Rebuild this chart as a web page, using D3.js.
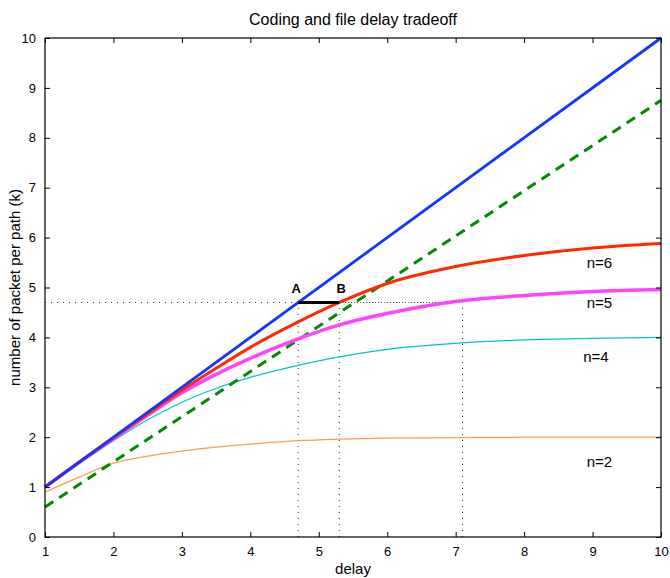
<!DOCTYPE html>
<html>
<head>
<meta charset="utf-8">
<script src="https://cdn.jsdelivr.net/npm/d3@7"></script>
<style>
  body { margin: 0; background: #fff; }
  text { font-family: "Liberation Sans", Arial, sans-serif; fill: #000; }
</style>
</head>
<body>
<div id="vis"></div>
<script>
// data
var xTicks = [1, 2, 3, 4, 5, 6, 7, 8, 9, 10];
var yTicks = [0, 1, 2, 3, 4, 5, 6, 7, 8, 9, 10];

var blueX = [1, 10];
var blueY = [1, 10];

var greenX = [1, 10];
var greenY = [0.6, 8.75];

var curveX = [1, 1.5, 2, 2.5, 3, 3.5, 4, 4.7, 5.3, 6, 7, 8, 9, 10];
var n6 = [1.0, 1.5, 1.99, 2.47, 2.94, 3.38, 3.8, 4.31, 4.7, 5.08, 5.42, 5.64, 5.79, 5.88];
var n5 = [1.0, 1.5, 1.97, 2.44, 2.89, 3.26, 3.58, 3.97, 4.25, 4.48, 4.72, 4.84, 4.92, 4.96];
var n4 = [0.99, 1.47, 1.93, 2.35, 2.7, 2.98, 3.2, 3.44, 3.61, 3.76, 3.88, 3.95, 3.98, 4.0];
var n2 = [0.9, 1.2, 1.48, 1.62, 1.72, 1.8, 1.86, 1.93, 1.96, 1.98, 1.99, 2.0, 2.0, 2.0];

var kLevel = 4.7;
var ptA = 4.7, ptB = 5.3, ptC = 7.1;

var labels = [
  {t: 'n=6', x: 9.1, y: 5.39},
  {t: 'n=5', x: 9.1, y: 4.59},
  {t: 'n=4', x: 9.05, y: 3.51},
  {t: 'n=2', x: 9.1, y: 1.40}
];

var svgW = 670, svgH = 578;
var mLeft = 45, mRight = 661, mTop = 38, mBottom = 537;

var svg = d3.select('#vis').append('svg').attr('width', svgW).attr('height', svgH);
var g = svg.append('g');

var x = d3.scaleLinear().domain([1, 10]).range([mLeft, mRight]);
var y = d3.scaleLinear().domain([0, 10]).range([mBottom, mTop]);

function pts(xs, ys) { return xs.map(function (v, i) { return [v, ys[i]]; }); }
var line = d3.line().x(function (d) { return x(d[0]); }).y(function (d) { return y(d[1]); });
var curve = d3.line().curve(d3.curveMonotoneX).x(function (d) { return x(d[0]); }).y(function (d) { return y(d[1]); });

// dotted guides
function dotted(x1, y1, x2, y2, off) {
  g.append('line')
    .attr('x1', x(x1)).attr('y1', y(y1)).attr('x2', x(x2)).attr('y2', y(y2))
    .attr('stroke', '#333').attr('stroke-width', 1)
    .attr('stroke-dasharray', '1,5').attr('stroke-dashoffset', off || 0);
}
dotted(1, kLevel, ptC, kLevel, 0);
dotted(ptB, kLevel, ptC, kLevel, 3);
dotted(ptA, 0, ptA, kLevel);
dotted(ptB, 0, ptB, kLevel);
dotted(ptC, 0, ptC, kLevel);

// curves
g.append('path').attr('d', curve(pts(curveX, n2))).attr('fill', 'none').attr('stroke', '#ff9955').attr('stroke-width', 1.2);
g.append('path').attr('d', curve(pts(curveX, n4))).attr('fill', 'none').attr('stroke', '#00c4cc').attr('stroke-width', 1.2);
g.append('path').attr('d', line(pts(greenX, greenY))).attr('fill', 'none').attr('stroke', '#008a00').attr('stroke-width', 3)
  .attr('stroke-dasharray', '10,7');
g.append('path').attr('d', curve(pts(curveX, n5))).attr('fill', 'none').attr('stroke', '#ff44ff').attr('stroke-width', 3.5);
g.append('path').attr('d', curve(pts(curveX, n6))).attr('fill', 'none').attr('stroke', '#ff2a00').attr('stroke-width', 3);
g.append('path').attr('d', line(pts(blueX, blueY))).attr('fill', 'none').attr('stroke', '#1435ff').attr('stroke-width', 2.8);

// A-B segment
g.append('line').attr('x1', x(ptA)).attr('y1', y(kLevel)).attr('x2', x(ptB)).attr('y2', y(kLevel))
  .attr('stroke', '#000').attr('stroke-width', 3);
g.append('text').text('A').attr('x', x(ptA) - 2).attr('y', y(kLevel) - 9)
  .attr('text-anchor', 'middle').style('font-size', '13px').style('font-weight', 'bold');
g.append('text').text('B').attr('x', x(ptB) + 2).attr('y', y(kLevel) - 9)
  .attr('text-anchor', 'middle').style('font-size', '13px').style('font-weight', 'bold');

// n= labels
g.selectAll('.nlab').data(labels).enter().append('text').attr('class', 'nlab')
  .text(function (d) { return d.t; })
  .attr('x', function (d) { return x(d.x); }).attr('y', function (d) { return y(d.y); })
  .attr('text-anchor', 'middle').style('font-size', '15px');

// box with inward ticks on all sides
g.append('rect').attr('x', mLeft).attr('y', mTop).attr('width', mRight - mLeft).attr('height', mBottom - mTop)
  .attr('fill', 'none').attr('stroke', '#000').attr('stroke-width', 1.2);

var axB = g.append('g').attr('transform', 'translate(0,' + mBottom + ')')
  .call(d3.axisBottom(x).tickValues(xTicks).tickSizeInner(-5).tickSizeOuter(0).tickPadding(10).tickFormat(d3.format('d')));
var axT = g.append('g').attr('transform', 'translate(0,' + mTop + ')')
  .call(d3.axisTop(x).tickValues(xTicks).tickSizeInner(-5).tickSizeOuter(0).tickFormat(''));
var axL = g.append('g').attr('transform', 'translate(' + mLeft + ',0)')
  .call(d3.axisLeft(y).tickValues(yTicks).tickSizeInner(-5).tickSizeOuter(0).tickPadding(9).tickFormat(d3.format('d')));
var axR = g.append('g').attr('transform', 'translate(' + mRight + ',0)')
  .call(d3.axisRight(y).tickValues(yTicks).tickSizeInner(-5).tickSizeOuter(0).tickFormat(''));

[axB, axT, axL, axR].forEach(function (a) {
  a.select('.domain').remove();
  a.selectAll('line').attr('stroke', '#000');
  a.selectAll('text').style('font-size', '13px').style('font-family', '"Liberation Sans", Arial, sans-serif');
});

// titles
g.append('text').text('Coding and file delay tradeoff').attr('x', (mLeft + mRight) / 2).attr('y', 25)
  .attr('text-anchor', 'middle').style('font-size', '16px');
g.append('text').text('delay').attr('x', (mLeft + mRight) / 2).attr('y', 574)
  .attr('text-anchor', 'middle').style('font-size', '15px');
g.append('text').text('number of packet per path (k)')
  .attr('transform', 'translate(20,' + ((mTop + mBottom) / 2) + ') rotate(-90)')
  .attr('text-anchor', 'middle').style('font-size', '15px');
</script>
</body>
</html>
